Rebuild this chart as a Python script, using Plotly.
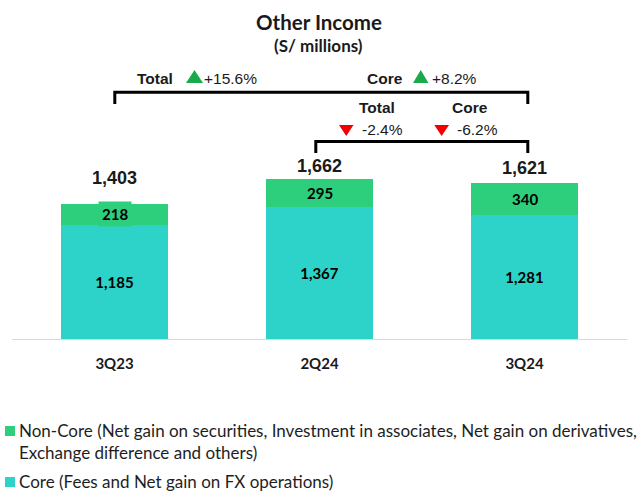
import plotly.graph_objects as go

# ---------------- data ----------------
categories = ["3Q23", "2Q24", "3Q24"]
core = [1185, 1367, 1281]
non_core = [218, 295, 340]
totals = [1403, 1662, 1621]

title_text = "Other Income"
subtitle_text = "(S/ millions)"
legend_noncore_1 = "Non-Core (Net gain on securities, Investment in associates, Net gain on derivatives,"
legend_noncore_2 = "Exchange difference and others)"
legend_core = "Core (Fees and Net gain on FX operations)"
long_labels = ["Total", "Core"]
long_changes = ["+15.6%", "+8.2%"]
short_labels = ["Total", "Core"]
short_changes = ["-2.4%", "-6.2%"]

# ---------------- style ----------------
CORE_COLOR = "#2dd3c9"
NONCORE_COLOR = "#2ecf7c"
UP_COLOR = "#1aaa4b"
DOWN_COLOR = "#f00000"
TXT = "#1a1a1a"
CAL = "Lato, 'Open Sans', sans-serif"
ARL = "'Liberation Sans', Arial, sans-serif"

W, H = 643, 493
L, R, T, B = 12, 16, 60, 154
PW, PH = W - L - R, H - T - B
BASE = H - B


def px(x):
    return (x - L) / PW


def py(y):
    return (BASE - y) / PH


fig = go.Figure()
fig.add_trace(go.Bar(
    x=categories, y=core, name=legend_core,
    marker=dict(color=CORE_COLOR, line=dict(width=0)),
    text=[f"{v:,}" for v in core], textposition="inside",
    insidetextanchor="middle", textangle=0,
    textfont=dict(family=CAL, size=15, color="black", weight="bold"),
    width=0.52, showlegend=False, hoverinfo="skip",
))
fig.add_trace(go.Bar(
    x=categories, y=non_core, name=legend_noncore_1,
    marker=dict(color=NONCORE_COLOR, line=dict(width=0)),
    width=0.52, showlegend=False, hoverinfo="skip",
))

annotations = []
shapes = []


def note(x, y, text, font, xanchor="center", yanchor="middle", **kw):
    d = dict(x=px(x), y=py(y), xref="paper", yref="paper", text=text,
             showarrow=False, xanchor=xanchor, yanchor=yanchor, font=font)
    d.update(kw)
    annotations.append(d)


# non-core labels (with the green label box)
for i, (c, n) in enumerate(zip(core, non_core)):
    annotations.append(dict(
        x=categories[i], y=c + n / 2, xref="x", yref="y",
        text=f"<b>{n:,}</b>", showarrow=False, xanchor="center", yanchor="middle",
        font=dict(family=CAL, size=15, color="black"),
        bgcolor=NONCORE_COLOR, borderpad=3,
    ))

# totals
total_offsets = [26, 13, 15]
for i, t in enumerate(totals):
    annotations.append(dict(
        x=categories[i], y=t, xref="x", yref="y",
        text=f"<b>{t:,}</b>", showarrow=False, xanchor="center", yanchor="middle",
        yshift=total_offsets[i],
        font=dict(family=ARL, size=18, color=TXT),
    ))

# title
note(319, 22.5, f"<b>{title_text}</b>", dict(family=CAL, size=20.5, color=TXT))
note(318, 46, f"<b>{subtitle_text}</b>", dict(family=CAL, size=17, color=TXT))


# brackets
def bracket(x0, x1, ytop, ybot):
    return dict(type="path", xref="paper", yref="paper",
                path=f"M {px(x0)},{py(ybot)} L {px(x0)},{py(ytop)} L {px(x1)},{py(ytop)} L {px(x1)},{py(ybot)}",
                line=dict(color="black", width=3))


shapes.append(bracket(114.8, 527.8, 92.3, 104))
shapes.append(bracket(315.8, 527.8, 141.5, 153))


def tri(x0, x1, y0, y1, up, color):
    xm = (x0 + x1) / 2
    if up:
        p = f"M {px(x0)},{py(y1)} L {px(xm)},{py(y0)} L {px(x1)},{py(y1)} Z"
    else:
        p = f"M {px(x0)},{py(y0)} L {px(xm)},{py(y1)} L {px(x1)},{py(y0)} Z"
    return dict(type="path", xref="paper", yref="paper", path=p,
                fillcolor=color, line=dict(width=0))


# long comparison
lab_x = [155, 384.7]
tri_x = [(186, 203), (413, 428.5)]
chg_x = [202, 430]
for k in range(2):
    note(lab_x[k], 78, f"<b>{long_labels[k]}</b>", dict(family=ARL, size=15.5, color=TXT))
    shapes.append(tri(tri_x[k][0], tri_x[k][1], 70, 83, True, UP_COLOR))
    note(chg_x[k], 78, long_changes[k], dict(family=ARL, size=15.5, color=TXT), xanchor="left")

# short comparison
slab_x = [377, 469.7]
stri_x = [(339, 353.5), (434.3, 449)]
schg_x = [359.5, 455]
for k in range(2):
    note(slab_x[k], 107.7, f"<b>{short_labels[k]}</b>", dict(family=ARL, size=15.5, color=TXT))
    shapes.append(tri(stri_x[k][0], stri_x[k][1], 125, 136, False, DOWN_COLOR))
    note(schg_x[k], 129, short_changes[k], dict(family=ARL, size=15.5, color=TXT), xanchor="left")


# legend
def square(x0, y0, size, color):
    return dict(type="rect", xref="paper", yref="paper",
                x0=px(x0), x1=px(x0 + size), y0=py(y0 + size), y1=py(y0),
                fillcolor=color, line=dict(width=0))


shapes.append(square(5, 426, 10, NONCORE_COLOR))
shapes.append(square(5, 477, 10, CORE_COLOR))
for txt, yc in [(legend_noncore_1, 430.7), (legend_noncore_2, 452.7), (legend_core, 481.5)]:
    note(17, yc, txt, dict(family=CAL, size=17, color="#1e1e1e"), xanchor="left")

fig.update_layout(
    width=W, height=H,
    margin=dict(l=L, r=R, t=T, b=B, pad=0),
    barmode="stack",
    paper_bgcolor="white", plot_bgcolor="white",
    uniformtext=dict(mode="show", minsize=15),
    xaxis=dict(showline=True, linecolor="#d9d9d9", linewidth=1,
               ticks="outside", ticklen=11, tickcolor="rgba(0,0,0,0)",
               tickfont=dict(family=CAL, size=15, color=TXT, weight="bold"),
               showgrid=False, zeroline=False, range=[-0.5, 2.5]),
    yaxis=dict(visible=False, range=[0, PH / 0.0965], showgrid=False, zeroline=False),
    annotations=annotations,
    shapes=shapes,
    showlegend=False,
)

fig.write_html("out.html", config={"displayModeBar": False},
               post_script="document.body.style.margin='0px';document.body.style.overflow='hidden';")
